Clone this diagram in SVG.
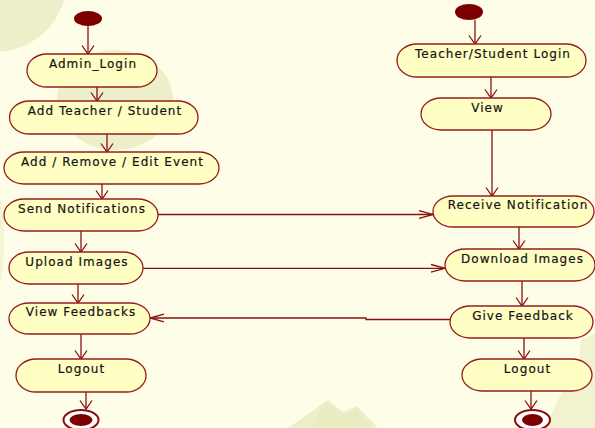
<svg xmlns="http://www.w3.org/2000/svg" width="595" height="428" viewBox="0 0 595 428">
<style>
.bg{fill:#fefee8}
.blob{fill:#ecefc9}
.blob2{fill:#e4e9b8}
.node rect{fill:#ffffc4;stroke:#951d1d;stroke-width:1.3}
.node text{font-family:"DejaVu Sans",Verdana,sans-serif;font-size:12px;letter-spacing:1.05px;fill:#141414;stroke:#141414;stroke-width:0.2px;text-anchor:middle}
.init{fill:#7d0000}
.fin-o{fill:#ffffff;stroke:#8a0c0c;stroke-width:2}
.fin-i{fill:#7d0000}
.conn path{fill:none;stroke:#8b1010;stroke-width:1.3}
.v{marker-end:url(#av)}
.h{marker-end:url(#ah)}
</style>
<defs>
<marker id="av" markerUnits="userSpaceOnUse" markerWidth="20" markerHeight="20" refX="0" refY="0" orient="auto" overflow="visible">
<path d="M-8.5,-6 L0,0 L-8.5,6" fill="none" stroke="#8b1010" stroke-width="1.3"/>
</marker>
<marker id="ah" markerUnits="userSpaceOnUse" markerWidth="20" markerHeight="20" refX="0" refY="0" orient="auto" overflow="visible">
<path d="M-14,-3.8 L0,0 L-14,3.8" fill="none" stroke="#8b1010" stroke-width="1.3"/>
</marker>
</defs>
<rect class="bg" x="0" y="0" width="595" height="428"/>
<circle class="blob" cx="-5" cy="-20" r="72"/>
<ellipse class="blob" cx="115" cy="100" rx="58" ry="50"/>
<ellipse class="blob" cx="-6" cy="240" rx="10" ry="55" opacity="0.6"/>
<polygon class="blob" points="288,428 328,400 343,412 357,406 378,428"/>
<polygon class="blob2" points="310,428 328,402 340,416 357,408 370,428" opacity="0.5"/>
<polygon class="blob" points="545,428 562,392 579,362 581,340 595,334 595,428" opacity="0.8"/>

<g class="conn" id="connectors">
<path class="v" d="M88,26 V54"/>
<path class="v" d="M97,87 V101"/>
<path class="v" d="M107,134 V152"/>
<path class="v" d="M102,184 V199"/>
<path class="v" d="M81,231 V252"/>
<path class="v" d="M78,284 V303"/>
<path class="v" d="M81,334 V359"/>
<path class="v" d="M86,392 V409"/>
<path class="v" d="M475,20 V44"/>
<path class="v" d="M491,77 V98"/>
<path class="v" d="M492,130 V196"/>
<path class="v" d="M519,227 V249"/>
<path class="v" d="M522,281 V306"/>
<path class="v" d="M524,338 V359"/>
<path class="v" d="M531,391 V409"/>
<path class="h" d="M158,214.5 H433"/>
<path class="h" d="M143,268.3 H445"/>
<path class="h" d="M450,319.5 H366 V318 H150"/>
</g>

<g id="start-left"><ellipse class="init" cx="88" cy="18.5" rx="14" ry="7.5"/></g>
<g id="start-right"><ellipse class="init" cx="469" cy="12" rx="14" ry="8"/></g>

<g class="node" id="admin-login"><rect x="27" y="54" width="130" height="33" rx="20" ry="16.5"/><text x="93" y="68">Admin_Login</text></g>
<g class="node" id="add-teacher-student"><rect x="9.5" y="101" width="188.5" height="33" rx="20" ry="16.5"/><text x="105" y="114.5">Add Teacher / Student</text></g>
<g class="node" id="add-remove-edit"><rect x="4" y="152" width="215" height="32" rx="20" ry="16"/><text x="112.5" y="165.5">Add / Remove / Edit Event</text></g>
<g class="node" id="send-notifications"><rect x="4" y="199" width="154" height="32" rx="20" ry="16"/><text x="82" y="212.5">Send Notifications</text></g>
<g class="node" id="upload-images"><rect x="9" y="252" width="134" height="32" rx="20" ry="16"/><text x="77" y="265.5">Upload Images</text></g>
<g class="node" id="view-feedbacks"><rect x="9" y="303" width="141" height="31" rx="20" ry="15.5"/><text x="81" y="316">View Feedbacks</text></g>
<g class="node" id="logout-left"><rect x="16" y="359" width="130" height="33" rx="20" ry="16.5"/><text x="81.5" y="372.5">Logout</text></g>

<g class="node" id="ts-login"><rect x="397" y="44" width="189" height="33" rx="20" ry="16.5"/><text x="493" y="57.5">Teacher/Student Login</text></g>
<g class="node" id="view"><rect x="421" y="98" width="130" height="32" rx="20" ry="16"/><text x="487.5" y="111.5">View</text></g>
<g class="node" id="receive-notification"><rect x="433" y="196" width="161" height="31" rx="20" ry="15.5"/><text x="518" y="209">Receive Notification</text></g>
<g class="node" id="download-images"><rect x="445" y="249" width="150" height="32" rx="20" ry="16"/><text x="522.5" y="262.5">Download Images</text></g>
<g class="node" id="give-feedback"><rect x="450" y="306" width="143" height="32" rx="20" ry="16"/><text x="523" y="319.5">Give Feedback</text></g>
<g class="node" id="logout-right"><rect x="462" y="359" width="130" height="32" rx="20" ry="16"/><text x="527.5" y="372.5">Logout</text></g>

<g id="end-left"><ellipse class="fin-o" cx="81" cy="420" rx="17.5" ry="10"/><ellipse class="fin-i" cx="81" cy="420" rx="11.5" ry="6"/></g>
<g id="end-right"><ellipse class="fin-o" cx="532.5" cy="420" rx="17.5" ry="10"/><ellipse class="fin-i" cx="532.5" cy="420" rx="10.5" ry="6"/></g>
</svg>
